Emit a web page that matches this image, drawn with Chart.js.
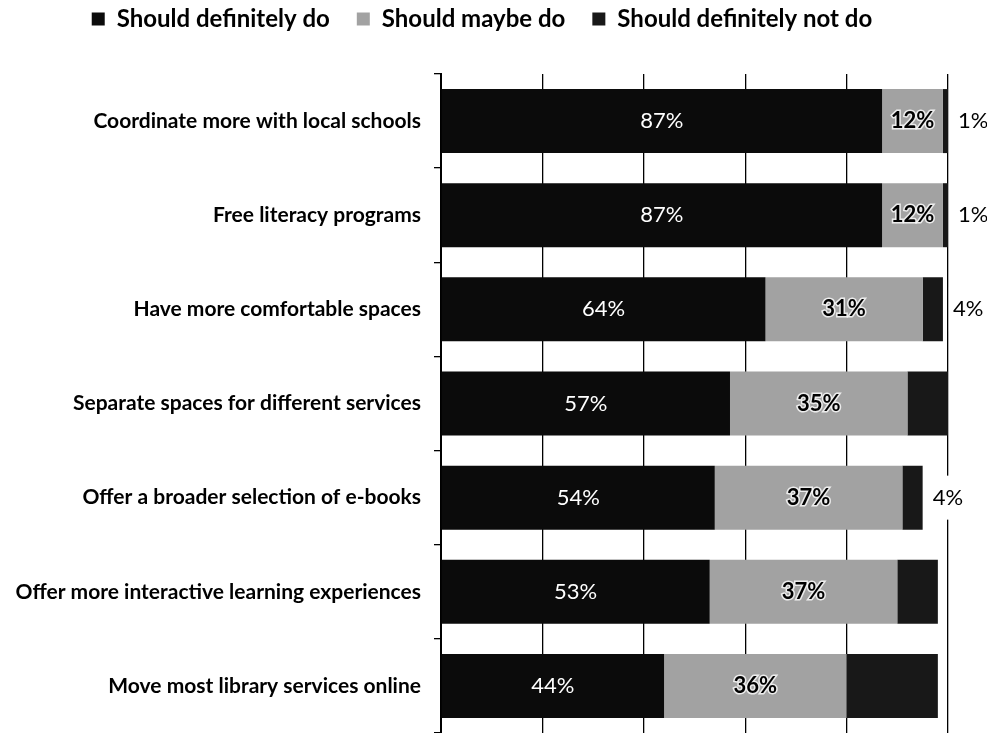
<!DOCTYPE html>
<html>
<head>
<meta charset="utf-8">
<script src="https://cdn.jsdelivr.net/npm/chart.js@4"></script>
<style>
  html, body { margin: 0; padding: 0; background: #fff; overflow: hidden; }
  canvas { display: block; }
</style>
</head>
<body>
<canvas id="libraryChart" width="987" height="733"></canvas>
<script>
const categories = [
    'Coordinate more with local schools',
    'Free literacy programs',
    'Have more comfortable spaces',
    'Separate spaces for different services',
    'Offer a broader selection of e-books',
    'Offer more interactive learning experiences',
    'Move most library services online'
];
const definitelyDo = [87, 87, 64, 57, 54, 53, 44];
const maybeDo = [12, 12, 31, 35, 37, 37, 36];
const definitelyNot = [1, 1, 4, 8, 4, 8, 18];
// only some of the "not do" values carry a label (placed right of the bar)
const notDoLabelled = [true, true, true, false, true, false, false];
const xTicks = [0, 20, 40, 60, 80, 100];

const FONT = 'Lato, "Noto Sans", sans-serif';

// percentage labels inside / beside the bars
const barLabels = {
    id: 'barLabels',
    afterDatasetsDraw(chart) {
        const ctx = chart.ctx;
        ctx.save();
        ctx.textBaseline = 'middle';
        chart.data.datasets.forEach((ds, i) => {
            const meta = chart.getDatasetMeta(i);
            meta.data.forEach((bar, j) => {
                const text = ds.data[j] + '%';
                const mid = (bar.x + bar.base) / 2;
                if (i === 0) {
                    ctx.font = '22px ' + FONT;
                    ctx.textAlign = 'center';
                    ctx.fillStyle = '#fff';
                    ctx.fillText(text, mid, bar.y);
                } else if (i === 1) {
                    ctx.font = 'bold 22px ' + FONT;
                    ctx.textAlign = 'center';
                    ctx.lineWidth = 3;
                    ctx.strokeStyle = 'rgba(255,255,255,0.8)';
                    ctx.strokeText(text, mid, bar.y);
                    ctx.fillStyle = '#000';
                    ctx.fillText(text, mid, bar.y);
                } else if (notDoLabelled[j]) {
                    ctx.font = '22px ' + FONT;
                    ctx.textAlign = 'left';
                    const x = bar.x + 10;
                    const w = ctx.measureText(text).width;
                    ctx.fillStyle = '#fff';
                    ctx.fillRect(x - 4, bar.y - 22, w + 8, 44);
                    ctx.fillStyle = '#000';
                    ctx.fillText(text, x, bar.y);
                }
            });
        });
        ctx.restore();
    }
};

const ctx = document.getElementById('libraryChart').getContext('2d');

new Chart(ctx, {
    type: 'bar',
    data: {
        labels: categories,
        datasets: [
            { label: 'Should definitely do', data: definitelyDo, backgroundColor: '#0b0b0b' },
            { label: 'Should maybe do', data: maybeDo, backgroundColor: '#a2a2a2' },
            { label: 'Should definitely not do', data: definitelyNot, backgroundColor: '#181818' }
        ]
    },
    options: {
        indexAxis: 'y',
        responsive: false,
        animation: false,
        datasets: {
            bar: {
                barPercentage: 0.68,
                categoryPercentage: 1,
                borderWidth: 0
            }
        },
        layout: {
            padding: { top: -20, left: 16, right: 39, bottom: 0 }
        },
        plugins: {
            legend: {
                position: 'top',
                labels: {
                    boxWidth: 13,
                    boxHeight: 13,
                    padding: 27,
                    color: '#000',
                    font: { family: FONT, size: 24, weight: 'bold' }
                }
            },
            tooltip: { enabled: false }
        },
        scales: {
            x: {
                position: 'top',
                stacked: true,
                min: 0,
                max: 100,
                afterBuildTicks: (scale) => {
                    scale.ticks = xTicks.map(v => ({ value: v }));
                },
                // empty band between legend and plot
                afterFit: (scale) => { scale.height = 33; },
                grid: {
                    color: '#000',
                    lineWidth: 1.3,
                    drawTicks: false
                },
                border: { display: false },
                ticks: { display: false }
            },
            y: {
                stacked: true,
                afterFit: (scale) => {
                    scale.width = 425;
                    // let the last band run to the bottom edge
                    scale.paddingTop = 0;
                    scale.paddingBottom = 0;
                },
                grid: {
                    drawOnChartArea: false,
                    drawTicks: true,
                    tickLength: 7,
                    color: '#000',
                    lineWidth: 1.3
                },
                border: { display: true, color: '#000', width: 2 },
                ticks: {
                    color: '#000',
                    padding: 13,
                    font: { family: FONT, size: 21, weight: 'bold' }
                }
            }
        }
    },
    plugins: [barLabels]
});
</script>
</body>
</html>
